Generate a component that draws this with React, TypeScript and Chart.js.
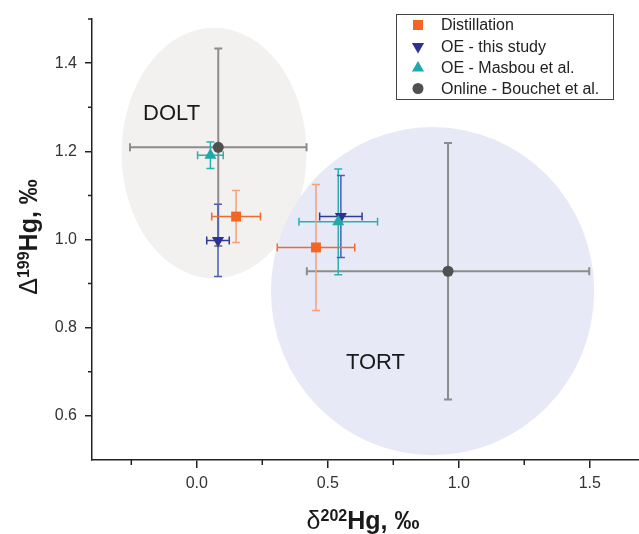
import React, { useEffect, useRef } from 'react';
import { Chart, registerables } from 'chart.js';

Chart.register(...registerables);

// ---------- data ----------
const seriesLabels = ['Distillation', 'OE - this study', 'OE - Masbou et al.', 'Online - Bouchet et al.'];

const distillationX = [0.15, 0.455];
const distillationY = [1.052, 0.982];
const distillationXErr = [0.093, 0.148];
const distillationYErr = [0.059, 0.143];

const oeThisStudyX = [0.081, 0.55];
const oeThisStudyY = [0.998, 1.052];
const oeThisStudyXErr = [0.043, 0.081];
const oeThisStudyYErr = [0.082, 0.093];

const oeMasbouX = [0.052, 0.54];
const oeMasbouY = [1.191, 1.04];
const oeMasbouXErr = [0.049, 0.15];
const oeMasbouYErr = [0.03, 0.12];

const onlineBouchetX = [0.082, 0.959];
const onlineBouchetY = [1.209, 0.928];
const onlineBouchetXErr = [0.337, 0.539];
const onlineBouchetYErr = [0.224, 0.291];

const regionNames = ['DOLT', 'TORT'];
const regionCenterX = [0.066, 0.9];
const regionCenterY = [1.196, 0.883];
const regionRadiusX = [0.353, 0.617];
const regionRadiusY = [0.284, 0.372];
const regionLabelX = [-0.096, 0.682];
const regionLabelY = [1.285, 0.719];

const xMajorTicks = [0, 0.5, 1.0, 1.5];
const yMajorTicks = [0.6, 0.8, 1.0, 1.2, 1.4];
const xMinorTicks = [-0.25, 0.25, 0.75, 1.25];
const yMinorTicks = [0.7, 0.9, 1.1, 1.3, 1.5];

// ---------- styles ----------
const FONT = '"Liberation Sans", Arial, sans-serif';
const seriesColors = ['#f26522', '#2e3192', '#1fa9a8', '#505050'];
const xBarColors = ['#f26a2e', '#2f3c96', '#2ab0b0', '#8c8c8c'];
const yBarColors = ['#f5a07c', '#4d5db3', '#2ab0b0', '#8c8c8c'];
const barWidths = [1.5, 1.5, 1.5, 2];
const regionColors = ['#f2f1ef', '#e8e9f6'];

const seriesX = [distillationX, oeThisStudyX, oeMasbouX, onlineBouchetX];
const seriesY = [distillationY, oeThisStudyY, oeMasbouY, onlineBouchetY];
const seriesXErr = [distillationXErr, oeThisStudyXErr, oeMasbouXErr, onlineBouchetXErr];
const seriesYErr = [distillationYErr, oeThisStudyYErr, oeMasbouYErr, onlineBouchetYErr];

function drawMarker(ctx: CanvasRenderingContext2D, idx: number, x: number, y: number) {
  ctx.save();
  ctx.fillStyle = seriesColors[idx];
  ctx.beginPath();
  if (idx === 0) {
    ctx.rect(x - 5, y - 5, 10, 10);
  } else if (idx === 1) {
    const r = 7;
    ctx.moveTo(x, y + r);
    ctx.lineTo(x - r * 0.866, y - r * 0.5);
    ctx.lineTo(x + r * 0.866, y - r * 0.5);
    ctx.closePath();
  } else if (idx === 2) {
    const r = 7;
    ctx.moveTo(x, y - r);
    ctx.lineTo(x - r * 0.866, y + r * 0.5);
    ctx.lineTo(x + r * 0.866, y + r * 0.5);
    ctx.closePath();
  } else {
    ctx.arc(x, y, 5.5, 0, Math.PI * 2);
  }
  ctx.fill();
  ctx.restore();
}

function drawRich(
  ctx: CanvasRenderingContext2D,
  parts: { text: string; font: string; dy: number }[],
  cx: number,
  baseline: number
) {
  let total = 0;
  const widths = parts.map((p) => {
    ctx.font = p.font;
    const w = ctx.measureText(p.text).width;
    total += w;
    return w;
  });
  let x = cx - total / 2;
  ctx.textAlign = 'left';
  ctx.textBaseline = 'alphabetic';
  parts.forEach((p, i) => {
    ctx.font = p.font;
    ctx.fillText(p.text, x, baseline + p.dy);
    x += widths[i];
  });
}

const decorPlugin = {
  id: 'decor',
  beforeDatasetsDraw(chart: any) {
    const { ctx, scales, chartArea } = chart;
    const xs = scales.x;
    const ys = scales.y;
    ctx.save();
    ctx.beginPath();
    ctx.rect(chartArea.left, chartArea.top, chartArea.right - chartArea.left, chartArea.bottom - chartArea.top);
    ctx.clip();
    // regions
    regionNames.forEach((name, i) => {
      const cx = xs.getPixelForValue(regionCenterX[i]);
      const cy = ys.getPixelForValue(regionCenterY[i]);
      const rx = Math.abs(xs.getPixelForValue(regionCenterX[i] + regionRadiusX[i]) - cx);
      const ry = Math.abs(ys.getPixelForValue(regionCenterY[i] + regionRadiusY[i]) - cy);
      ctx.fillStyle = regionColors[i];
      ctx.beginPath();
      ctx.ellipse(cx, cy, rx, ry, 0, 0, Math.PI * 2);
      ctx.fill();
    });
    // region labels
    ctx.fillStyle = '#1a1a1a';
    ctx.font = `22px ${FONT}`;
    ctx.textAlign = 'center';
    ctx.textBaseline = 'middle';
    regionNames.forEach((name, i) => {
      ctx.fillText(name, xs.getPixelForValue(regionLabelX[i]), ys.getPixelForValue(regionLabelY[i]));
    });
    // error bars (bottom series first)
    const cap = 4;
    for (let s = seriesX.length - 1; s >= 0; s--) {
      ctx.lineWidth = barWidths[s];
      for (let k = 0; k < seriesX[s].length; k++) {
        const px = xs.getPixelForValue(seriesX[s][k]);
        const py = ys.getPixelForValue(seriesY[s][k]);
        const x0 = xs.getPixelForValue(seriesX[s][k] - seriesXErr[s][k]);
        const x1 = xs.getPixelForValue(seriesX[s][k] + seriesXErr[s][k]);
        const y0 = ys.getPixelForValue(seriesY[s][k] - seriesYErr[s][k]);
        const y1 = ys.getPixelForValue(seriesY[s][k] + seriesYErr[s][k]);
        ctx.strokeStyle = yBarColors[s];
        ctx.beginPath();
        ctx.moveTo(px, y0);
        ctx.lineTo(px, y1);
        ctx.moveTo(px - cap, y0);
        ctx.lineTo(px + cap, y0);
        ctx.moveTo(px - cap, y1);
        ctx.lineTo(px + cap, y1);
        ctx.stroke();
        ctx.strokeStyle = xBarColors[s];
        ctx.beginPath();
        ctx.moveTo(x0, py);
        ctx.lineTo(x1, py);
        ctx.moveTo(x0, py - cap);
        ctx.lineTo(x0, py + cap);
        ctx.moveTo(x1, py - cap);
        ctx.lineTo(x1, py + cap);
        ctx.stroke();
      }
    }
    ctx.restore();
  },
  afterDraw(chart: any) {
    const { ctx, scales, chartArea } = chart;
    const xs = scales.x;
    const ys = scales.y;
    ctx.save();
    // minor ticks
    ctx.strokeStyle = '#222';
    ctx.lineWidth = 1.5;
    ctx.beginPath();
    xMinorTicks.forEach((v) => {
      const px = xs.getPixelForValue(v);
      ctx.moveTo(px, chartArea.bottom);
      ctx.lineTo(px, chartArea.bottom + 5);
    });
    yMinorTicks.forEach((v) => {
      const py = ys.getPixelForValue(v);
      ctx.moveTo(chartArea.left - 4, py);
      ctx.lineTo(chartArea.left, py);
    });
    ctx.stroke();

    // legend
    ctx.strokeStyle = '#444';
    ctx.lineWidth = 1;
    ctx.strokeRect(396.5, 14.5, 217, 85);
    const rowY = [25, 46.5, 68, 88.5];
    seriesLabels.forEach((label, i) => {
      drawMarker(ctx, i, 418, rowY[i]);
      ctx.fillStyle = '#222';
      ctx.font = `16px ${FONT}`;
      ctx.textAlign = 'left';
      ctx.textBaseline = 'middle';
      ctx.fillText(label, 441, rowY[i] + 1);
    });

    // axis titles
    ctx.fillStyle = '#1a1a1a';
    drawRich(
      ctx,
      [
        { text: 'δ', font: `25px ${FONT}`, dy: 0 },
        { text: '202', font: `bold 16px ${FONT}`, dy: -8 },
        { text: 'Hg, ‰', font: `bold 25px ${FONT}`, dy: 0 },
      ],
      363,
      529
    );
    ctx.save();
    ctx.translate(37, 237);
    ctx.rotate(-Math.PI / 2);
    drawRich(
      ctx,
      [
        { text: 'Δ', font: `25px ${FONT}`, dy: 0 },
        { text: '199', font: `bold 16px ${FONT}`, dy: -8 },
        { text: 'Hg, ‰', font: `bold 25px ${FONT}`, dy: 0 },
      ],
      0,
      0
    );
    ctx.restore();
    ctx.restore();
  },
};

const pointStyles = ['rect', 'triangle', 'triangle', 'circle'];
const pointRadii = [7, 7, 7, 5.5];
const pointRotations = [0, 180, 0, 0];
const drawOrders = [0, 2, 1, 3];

export default function App() {
  const canvasRef = useRef<HTMLCanvasElement | null>(null);

  useEffect(() => {
    const canvas = canvasRef.current;
    if (!canvas) return;
    const datasets = seriesLabels.map((label, i) => ({
      label,
      data: seriesX[i].map((x, k) => ({ x, y: seriesY[i][k] })),
      pointStyle: pointStyles[i],
      pointRadius: pointRadii[i],
      pointRotation: pointRotations[i],
      pointBackgroundColor: seriesColors[i],
      pointBorderColor: seriesColors[i],
      pointBorderWidth: 0,
      pointHoverRadius: pointRadii[i],
      showLine: false,
      order: drawOrders[i],
    }));
    const tickFont = { family: FONT, size: 16 };
    const chart = new Chart(canvas, {
      type: 'scatter',
      data: { datasets: datasets as any },
      options: {
        animation: false,
        responsive: false,
        devicePixelRatio: 1,
        layout: { autoPadding: false, padding: { top: 19, right: 0, bottom: 0, left: 0 } },
        plugins: {
          legend: { display: false },
          tooltip: { enabled: false },
        },
        scales: {
          x: {
            type: 'linear',
            min: -0.4,
            max: 1.688,
            afterBuildTicks: (s: any) => {
              s.ticks = xMajorTicks.map((v) => ({ value: v }));
            },
            afterFit: (s: any) => {
              s.height = 74;
              s.paddingLeft = 0;
              s.paddingRight = 0;
            },
            ticks: {
              callback: (v: any) => Number(v).toFixed(1),
              font: tickFont,
              color: '#333',
              padding: 6,
              maxRotation: 0,
              autoSkip: false,
            },
            grid: {
              display: true,
              drawOnChartArea: false,
              drawTicks: true,
              tickLength: 8,
              color: '#222',
              lineWidth: 1.5,
            },
            border: { display: true, color: '#222', width: 1.5 },
          },
          y: {
            type: 'linear',
            min: 0.5,
            max: 1.5,
            afterBuildTicks: (s: any) => {
              s.ticks = yMajorTicks.map((v) => ({ value: v }));
            },
            afterFit: (s: any) => {
              s.width = 92;
              s.paddingTop = 0;
              s.paddingBottom = 0;
            },
            ticks: {
              callback: (v: any) => Number(v).toFixed(1),
              font: tickFont,
              color: '#333',
              padding: 8,
              autoSkip: false,
            },
            grid: {
              display: true,
              drawOnChartArea: false,
              drawTicks: true,
              tickLength: 7,
              color: '#222',
              lineWidth: 1.5,
            },
            border: { display: true, color: '#222', width: 1.5 },
          },
        },
      } as any,
      plugins: [decorPlugin],
    });
    return () => chart.destroy();
  }, []);

  return (
    <div style={{ position: 'fixed', left: 0, top: 0, width: 639, height: 534, background: '#fff' }}>
      <canvas ref={canvasRef} width={639} height={534} style={{ display: 'block' }} />
    </div>
  );
}
